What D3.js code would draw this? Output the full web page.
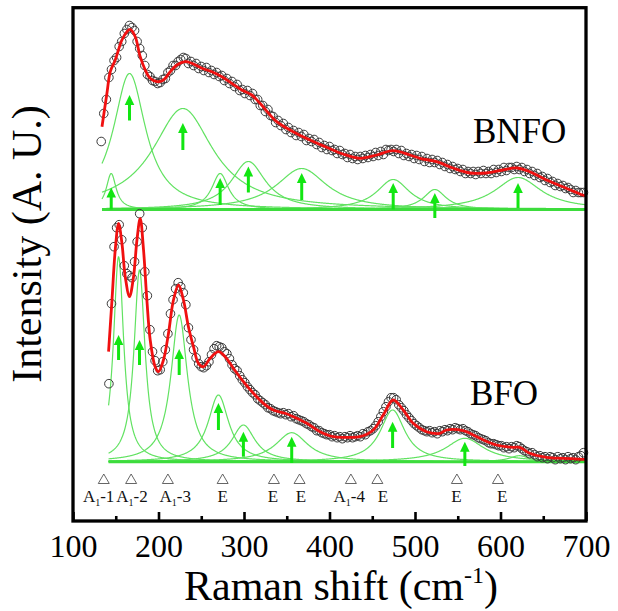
<!DOCTYPE html>
<html>
<head>
<meta charset="utf-8">
<script src="https://cdn.jsdelivr.net/npm/d3@7"></script>
<style>
  html, body { margin: 0; padding: 0; background: #ffffff; }
  svg { display: block; }
</style>
</head>
<body>
<svg id="chart" width="618" height="611"></svg>
<script>
// ---------------------------------------------------------------
// Raman spectra of BNFO (upper trace) and BFO (lower trace)
// Intensities are in arbitrary units above each trace's baseline.
// ---------------------------------------------------------------

// measured spectra, sampled every 3 cm^-1
const bnfoShift = d3.range(133, 698, 3);
const bnfoIntensity = [
  68, 96, 110, 132, 140, 149, 152, 163, 168, 176,
  180, 184, 182, 179, 168, 161, 154, 144, 135, 133,
  129, 128, 126, 127, 130, 131, 137, 139, 144, 144,
  148, 150, 152, 151, 146, 148, 144, 146, 141, 143,
  139, 142, 137, 139, 135, 137, 133, 134, 129, 131,
  126, 128, 123, 125, 119, 120, 116, 119, 114, 116,
  110, 110, 104, 104, 98, 100, 94, 93, 87, 89,
  84, 86, 80, 82, 77, 79, 74, 77, 73, 75,
  69, 71, 68, 70, 65, 67, 62, 64, 60, 63,
  59, 60, 56, 59, 55, 56, 52, 55, 51, 53,
  50, 53, 51, 54, 52, 55, 53, 57, 54, 58,
  55, 60, 59, 60, 58, 60, 56, 59, 54, 56,
  53, 55, 51, 54, 50, 53, 48, 51, 47, 50,
  47, 49, 45, 47, 43, 45, 41, 43, 40, 41,
  38, 40, 36, 38, 36, 38, 35, 38, 36, 39,
  36, 38, 36, 40, 37, 40, 38, 42, 39, 42,
  42, 40, 43, 40, 42, 38, 40, 36, 38, 34,
  36, 32, 33, 29, 31, 27, 28, 24, 26, 23,
  24, 21, 22, 20, 17, 19, 17, 17, 17
];

const bfoShift = d3.range(142, 698, 3);
const bfoIntensity = [
  78, 158, 215, 234, 237, 222, 196, 188, 186, 184,
  200, 220, 248, 234, 190, 166, 132, 110, 101, 91,
  92, 100, 112, 128, 148, 162, 173, 179, 175, 169,
  157, 134, 122, 112, 104, 98, 95, 94, 96, 100,
  107, 113, 116, 115, 114, 110, 108, 103, 97, 93,
  91, 86, 82, 79, 75, 72, 69, 67, 63, 61,
  59, 57, 54, 53, 51, 50, 49, 48, 49, 47,
  48, 45, 46, 43, 42, 41, 40, 38, 37, 35,
  34, 31, 31, 29, 28, 27, 27, 25, 26, 24,
  25, 23, 25, 24, 26, 24, 25, 26, 25, 28,
  27, 30, 31, 33, 36, 40, 45, 50, 55, 60,
  64, 64, 62, 57, 54, 51, 47, 44, 41, 38,
  36, 34, 32, 31, 30, 31, 29, 30, 28, 31,
  30, 32, 31, 33, 32, 34, 33, 32, 33, 31,
  30, 28, 27, 26, 24, 23, 22, 21, 19, 18,
  18, 17, 16, 16, 14, 15, 13, 15, 14, 16,
  15, 13, 11, 10, 8, 9, 7, 5, 6, 4,
  5, 3, 5, 4, 2, 5, 3, 4, 2, 5,
  3, 4, 2, 5, 6, 9
];

// cumulative fit envelopes
const bnfoFitShift = [133.9, 139.7, 143.6, 149.4, 157.2, 163.1, 166.9, 172.8, 178.6, 184.5,
  190.3, 198.1, 205.8, 213.7, 221.5, 231.2, 239, 250.7, 262.4, 274.1,
  285.7, 297.4, 309.1, 320, 338.3, 357.4, 377.2, 396.7, 415.8, 435.6,
  455.1, 474.2, 494, 505.7, 525.2, 544.3, 564.1, 583.6, 602.7, 618.7,
  634.2, 653.7, 672.8, 696.1, 700];
const bnfoFitValue = [82.8, 116.2, 137.8, 149.5, 169.5, 177.8, 180.2, 172.8, 152.8, 139.5,
  131.2, 127.8, 129.5, 137.8, 144.5, 147.8, 146.2, 141.2, 137.8, 132.8,
  126.2, 119.5, 114.5, 105, 87.8, 77.8, 69.5, 62.2, 55.5, 51.2,
  54.5, 58.8, 54.5, 51.2, 47.8, 41.5, 36.5, 36.5, 39.5, 41.5,
  37.8, 29.5, 22.8, 14.5, 13.5];

const bfoFitShift = [141.6, 145.6, 149.4, 153.3, 157.2, 161.1, 166.1, 170.8, 174.8, 178.6,
  182.5, 186.4, 190.3, 196.1, 200, 205.8, 211.7, 217.5, 223.4, 229.2,
  235, 240.9, 246.7, 252.6, 260.4, 270.1, 277.9, 287.6, 299.3, 311,
  322.7, 334.3, 348, 357.7, 373.4, 388.9, 404.4, 420.1, 435.6, 451.2,
  462.8, 474.5, 486.2, 497.9, 513.5, 529.1, 536.9, 556.3, 575.8, 595.3,
  614.7, 622.5, 634.2, 653.7, 673.1, 696.5, 700];
const bfoFitValue = [110, 161.7, 211.7, 238.4, 218.7, 185, 165, 185, 221.7, 243.4,
  211.7, 161.7, 121.7, 95, 90, 101.7, 128.4, 161.7, 176.7, 161.7,
  135, 115, 98.4, 95, 103.4, 110, 105, 93.4, 80, 68.4,
  58.4, 51.7, 48.4, 45, 38.4, 30, 25, 24.4, 25, 31.7,
  46.7, 61.7, 51.7, 38.4, 30, 28.4, 31.7, 31, 23.4, 16.7,
  14.4, 14.4, 8.4, 4.4, 3.4, 2.4, 2.3];

// Lorentzian modes: centre (cm^-1), half width (cm^-1), height
const bnfoModeCenter = [144.7, 166.1, 228.5, 272.1, 305.1, 367.5, 474.5, 523.2, 620.5];
const bnfoModeWidth  = [7, 23, 43, 12, 24.5, 36, 23.4, 16, 33];
const bnfoModeHeight = [36, 136, 101, 36, 48, 41, 30, 20, 32];
const bnfoArrowBase  = [0, 89, 59.5, 4.5, 17, 9.5, 0, -8.5, 1.5];
const bnfoArrowTip   = [22, 114.5, 86.5, 31.5, 43, 36.5, 26.5, 16.5, 26.5];

const bfoModeCenter = [153.3, 177.8, 224.2, 270.1, 299.3, 355.8, 473.8, 558.3, 622];
const bfoModeWidth  = [7.2, 7.8, 11.7, 14.6, 16.5, 23, 17.5, 27, 14];
const bfoModeHeight = [205, 191.7, 146.7, 66.7, 36.7, 29, 51.7, 23.4, 6];
const bfoArrowShift = [153.3, 177.8, 224.2, 270.1, 299.3, 355.8, 473.8, 558.3];
const bfoArrowBase  = [101.7, 96.7, 86.7, 31.7, 5, -1.3, 13.7, -4.3];
const bfoArrowTip   = [126.7, 121.7, 112.7, 58.7, 30, 25, 40, 20];

// vertical offsets of the stacked traces
const bnfoOffset = 311.5;
const bfoOffset = 59.3;

// reference phonon modes of R3c BiFeO3
const modeMarkShift  = [136, 168, 211, 275, 335, 365, 425, 456, 549, 597];
const modeLabelShift = [130, 169, 219.5, 275, 334, 366.5, 423, 462.5, 548.5, 602];
const modeSymbol     = ["A", "A", "A", "E", "E", "E", "A", "E", "E", "E"];
const modeIndex      = ["1-1", "1-2", "1-3", "", "", "", "1-4", "", "", ""];

const xMajorTicks = [100, 200, 300, 400, 500, 600, 700];
const xMinorTicks = [150, 250, 350, 450, 550, 650];

// ---------------------------------------------------------------
const svg = d3.select("#chart");
const serif = '"Liberation Serif", "Times New Roman", Times, serif';

const x = d3.scaleLinear().domain([100, 700]).range([73, 586]);
const y = d3.scaleLinear().domain([0, 513.3]).range([521, 7.7]);

const COMPONENT = "#62e262";
const BASELINE = "#3ddc3d";
const ARROW = "#12e612";
const FIT = "#f01010";

const lorentz = (c, w, h) => v => h / (1 + ((v - c) / w) * ((v - c) / w));

function drawSpectrum(s) {
  const g = svg.append("g");
  const grid = d3.range(s.start, 700.001, 0.5);

  // individual fitted modes
  s.center.forEach((c, i) => {
    const f = lorentz(c, s.width[i], s.height[i]);
    g.append("path")
      .datum(grid)
      .attr("fill", "none")
      .attr("stroke", COMPONENT)
      .attr("stroke-width", 1.2)
      .attr("d", d3.line().x(v => x(v)).y(v => y(s.offset + f(v))));
  });

  // common baseline of the modes
  g.append("line")
    .attr("x1", x(s.start)).attr("x2", x(700))
    .attr("y1", y(s.offset)).attr("y2", y(s.offset))
    .attr("stroke", BASELINE).attr("stroke-width", 3);

  // arrows marking the mode positions
  s.arrowShift.forEach((c, i) => {
    const xa = x(c);
    const yb = y(s.offset + s.arrowBase[i]);
    const yt = y(s.offset + s.arrowTip[i]);
    g.append("line")
      .attr("x1", xa).attr("x2", xa)
      .attr("y1", yb).attr("y2", yt + 8)
      .attr("stroke", ARROW).attr("stroke-width", 3);
    g.append("path")
      .attr("d", `M${xa},${yt} L${xa - 4.8},${yt + 10} L${xa + 4.8},${yt + 10} Z`)
      .attr("fill", ARROW);
  });

  // measured points
  g.selectAll("circle.pt")
    .data(s.shift.map((v, i) => [v, s.intensity[i]]).filter(d => d[1] !== undefined))
    .join("circle")
    .attr("class", "pt")
    .attr("cx", d => x(d[0]))
    .attr("cy", d => y(s.offset + d[1]))
    .attr("r", 4.3)
    .attr("fill", "none")
    .attr("stroke", "#3a3a3a")
    .attr("stroke-width", 1);

  // fit envelope
  g.append("path")
    .datum(s.fitShift.map((v, i) => [v, s.fitValue[i]]))
    .attr("fill", "none")
    .attr("stroke", FIT)
    .attr("stroke-width", 2.8)
    .attr("stroke-linejoin", "round")
    .attr("d", d3.line().curve(d3.curveCatmullRom.alpha(0.5))
      .x(d => x(d[0])).y(d => y(s.offset + d[1])));
}

drawSpectrum({
  start: 133.9, offset: bnfoOffset,
  center: bnfoModeCenter, width: bnfoModeWidth, height: bnfoModeHeight,
  arrowShift: bnfoModeCenter, arrowBase: bnfoArrowBase, arrowTip: bnfoArrowTip,
  shift: bnfoShift, intensity: bnfoIntensity,
  fitShift: bnfoFitShift, fitValue: bnfoFitValue
});

drawSpectrum({
  start: 141.6, offset: bfoOffset,
  center: bfoModeCenter, width: bfoModeWidth, height: bfoModeHeight,
  arrowShift: bfoArrowShift, arrowBase: bfoArrowBase, arrowTip: bfoArrowTip,
  shift: bfoShift, intensity: bfoIntensity,
  fitShift: bfoFitShift, fitValue: bfoFitValue
});

// trace names
svg.append("text").attr("x", 473).attr("y", 143)
  .attr("font-family", serif).attr("font-size", 35).text("BNFO");
svg.append("text").attr("x", 470).attr("y", 405)
  .attr("font-family", serif).attr("font-size", 35).text("BFO");

// reference mode markers and labels
const marks = svg.append("g");
modeMarkShift.forEach(v => {
  const xm = x(v);
  marks.append("path")
    .attr("d", `M${xm},474 L${xm - 5.5},483.5 L${xm + 5.5},483.5 Z`)
    .attr("fill", "none").attr("stroke", "#555").attr("stroke-width", 0.9);
});
modeLabelShift.forEach((v, i) => {
  const t = marks.append("text")
    .attr("x", x(v)).attr("y", 502)
    .attr("text-anchor", "middle")
    .attr("font-family", serif).attr("font-size", 17)
    .attr("fill", "#111");
  t.append("tspan").text(modeSymbol[i]);
  if (modeIndex[i]) {
    const [sub, rest] = [modeIndex[i].slice(0, 1), modeIndex[i].slice(1)];
    t.append("tspan").attr("font-size", 10).attr("dy", 4).text(sub);
    t.append("tspan").attr("dy", -4).text(rest);
  }
});

// x axis: inward ticks on the lower frame edge
const axisMajor = d3.axisBottom(x).tickValues(xMajorTicks).tickSize(-9).tickPadding(13)
  .tickFormat(d3.format("d"));
const gx = svg.append("g").attr("transform", "translate(0,521)").call(axisMajor);
gx.select(".domain").remove();
gx.selectAll(".tick line").attr("stroke", "#000").attr("stroke-width", 2.6);
gx.selectAll(".tick text").attr("font-family", serif).attr("font-size", 32).attr("fill", "#000");

const axisMinor = d3.axisBottom(x).tickValues(xMinorTicks).tickSize(-5).tickFormat("");
const gxm = svg.append("g").attr("transform", "translate(0,521)").call(axisMinor);
gxm.select(".domain").remove();
gxm.selectAll(".tick line").attr("stroke", "#000").attr("stroke-width", 2.6);

// frame
svg.append("rect")
  .attr("x", x(100)).attr("y", y(513.3))
  .attr("width", x(700) - x(100)).attr("height", y(0) - y(513.3))
  .attr("fill", "none").attr("stroke", "#000").attr("stroke-width", 3.3);

// axis titles
const xt = svg.append("text")
  .attr("x", 341).attr("y", 600).attr("text-anchor", "middle")
  .attr("font-family", serif).attr("font-size", 42);
xt.append("tspan").text("Raman shift (cm");
xt.append("tspan").attr("font-size", 24).attr("dy", -17).text("-1");
xt.append("tspan").attr("dy", 17).text(")");

svg.append("text")
  .attr("transform", "translate(41,244) rotate(-90)")
  .attr("text-anchor", "middle")
  .attr("font-family", serif).attr("font-size", 42)
  .text("Intensity (A. U.)");
</script>
</body>
</html>
